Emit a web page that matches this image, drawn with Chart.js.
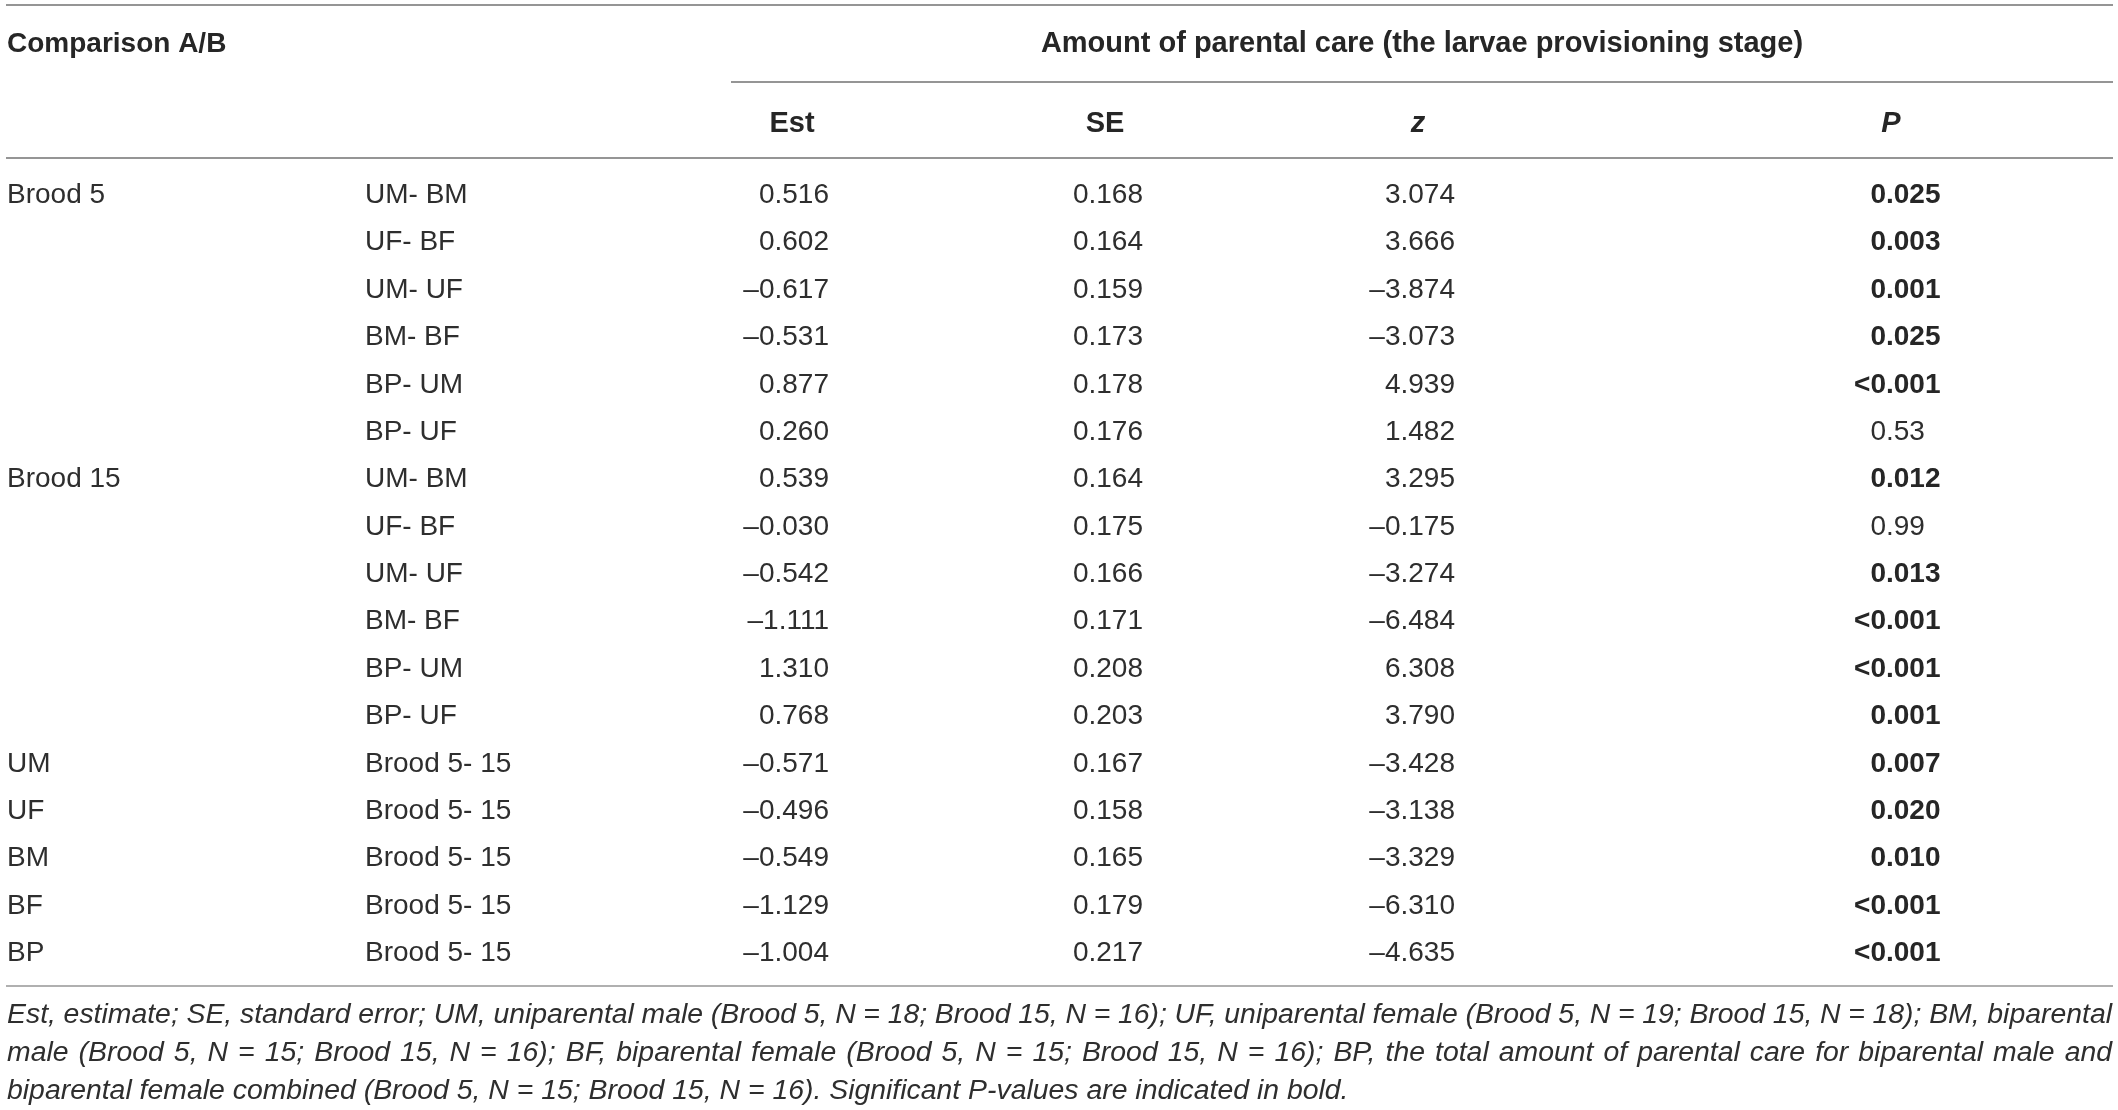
<!DOCTYPE html>
<html>
<head>
<meta charset="utf-8">
<script src="https://cdn.jsdelivr.net/npm/chart.js@4.4.1/dist/chart.umd.min.js"></script>
<style>
html, body { margin: 0; padding: 0; background: #fff; }
#wrap { width: 2118px; height: 1110px; position: relative; }
</style>
</head>
<body>
<div id="wrap"><canvas id="table"></canvas></div>
<script>
// table data
const groups = ["Brood 5", "", "", "", "", "", "Brood 15", "", "", "", "", "", "UM", "UF", "BM", "BF", "BP"];
const comparisons = ["UM- BM", "UF- BF", "UM- UF", "BM- BF", "BP- UM", "BP- UF",
                     "UM- BM", "UF- BF", "UM- UF", "BM- BF", "BP- UM", "BP- UF",
                     "Brood 5- 15", "Brood 5- 15", "Brood 5- 15", "Brood 5- 15", "Brood 5- 15"];
const est = [0.516, 0.602, -0.617, -0.531, 0.877, 0.260, 0.539, -0.030, -0.542, -1.111, 1.310, 0.768, -0.571, -0.496, -0.549, -1.129, -1.004];
const se = [0.168, 0.164, 0.159, 0.173, 0.178, 0.176, 0.164, 0.175, 0.166, 0.171, 0.208, 0.203, 0.167, 0.158, 0.165, 0.179, 0.217];
const zVals = [3.074, 3.666, -3.874, -3.073, 4.939, 1.482, 3.295, -0.175, -3.274, -6.484, 6.308, 3.790, -3.428, -3.138, -3.329, -6.310, -4.635];
const pVals = ["0.025", "0.003", "0.001", "0.025", "<0.001", "0.53", "0.012", "0.99", "0.013", "<0.001", "<0.001", "0.001", "0.007", "0.020", "0.010", "<0.001", "<0.001"];

const headTitle = "Comparison A/B";
const headSpan = "Amount of parental care (the larvae provisioning stage)";
const subHeads = ["Est", "SE", "z", "P"];
const notes = [
  "Est, estimate; SE, standard error; UM, uniparental male (Brood 5, N = 18; Brood 15, N = 16); UF, uniparental female (Brood 5, N = 19; Brood 15, N = 18); BM, biparental",
  "male (Brood 5, N = 15; Brood 15, N = 16); BF, biparental female (Brood 5, N = 15; Brood 15, N = 16); BP, the total amount of parental care for biparental male and",
  "biparental female combined (Brood 5, N = 15; Brood 15, N = 16). Significant P-values are indicated in bold."
];

// layout (x in px units, y in row units)
const colX = { group: 7, comp: 365, est: 829, se: 1143, z: 1455, p: 1886 };
const subX = [792, 1105, 1418, 1891];
const TEXT = '#262626';
const BODY = '#2e2e2e';
const RULE = '#959595';
const FAM = '"Liberation Sans", Arial, sans-serif';
const LIGHT = '28px ' + FAM;
const BOLD = 'bold 29px ' + FAM;
const BOLDT = 'bold 28px ' + FAM;
const BOLDP = 'bold 28px ' + FAM;
const BOLDIT = 'italic bold 29px ' + FAM;
const ITAL = 'italic 28.4px ' + FAM;
const DY = 0.05;

const rules = [
  { y: -3.968, x0: 6, x1: 2113, c: RULE },
  { y: -2.343, x0: 731, x1: 2113, c: RULE },
  { y: -0.739, x0: 6, x1: 2113, c: RULE },
  { y: 16.739, x0: 6, x1: 2113, c: '#b0b0b0' }
];

function fmt(v) {
  return v.toFixed(3).replace('-', '\u2013');
}
function isSig(p) {
  return parseFloat(p.replace('<', '')) < 0.05;
}

function column(texts, x, opts) {
  return Object.assign({
    data: texts.map((t, i) => ({ x: x, y: i })),
    texts: texts,
    pointRadius: 0,
    showLine: false
  }, opts);
}

const datasets = [
  column(groups, colX.group, { align: 'left' }),
  column(comparisons, colX.comp, { align: 'left' }),
  column(est.map(fmt), colX.est, { align: 'right' }),
  column(se.map(fmt), colX.se, { align: 'right' }),
  column(zVals.map(fmt), colX.z, { align: 'right' }),
  column(pVals, colX.p, { align: 'decimal', bold: pVals.map(isSig) })
];

function justify(ctx, line, x0, x1, y) {
  const words = line.split(' ');
  let total = 0;
  words.forEach(w => total += ctx.measureText(w).width);
  const gap = (x1 - x0 - total) / (words.length - 1);
  let x = x0;
  words.forEach(w => {
    ctx.fillText(w, x, y);
    x += ctx.measureText(w).width + gap;
  });
}

const tablePlugin = {
  id: 'tableText',
  afterDatasetsDraw(chart) {
    const ctx = chart.ctx;
    const xs = chart.scales.x, ys = chart.scales.y;
    ctx.save();
    ctx.lineWidth = 2;
    rules.forEach(r => {
      const y = Math.round(ys.getPixelForValue(r.y));
      ctx.strokeStyle = r.c;
      ctx.beginPath();
      ctx.moveTo(xs.getPixelForValue(r.x0), y);
      ctx.lineTo(xs.getPixelForValue(r.x1), y);
      ctx.stroke();
    });

    ctx.fillStyle = TEXT;
    ctx.textBaseline = 'middle';

    // headers
    ctx.font = BOLDT;
    ctx.textAlign = 'left';
    ctx.fillText(headTitle, xs.getPixelForValue(colX.group), ys.getPixelForValue(-3.187 + DY));
    ctx.font = BOLD;
    ctx.textAlign = 'center';
    ctx.fillText(headSpan, xs.getPixelForValue(1422), ys.getPixelForValue(-3.187 + DY));
    subHeads.forEach((h, i) => {
      ctx.font = (h === 'z' || h === 'P') ? BOLDIT : BOLD;
      ctx.fillText(h, xs.getPixelForValue(subX[i]), ys.getPixelForValue(-1.499 + DY));
    });

    // body cells
    chart.data.datasets.forEach((ds, d) => {
      const meta = chart.getDatasetMeta(d);
      meta.data.forEach((pt, i) => {
        const t = ds.texts[i];
        if (!t) return;
        const y = pt.y + DY * 47.4;
        const bold = ds.bold && ds.bold[i];
        ctx.font = bold ? BOLDP : LIGHT;
        ctx.fillStyle = bold ? TEXT : BODY;
        if (ds.align === 'decimal') {
          const k = t.indexOf('.');
          ctx.textAlign = 'right';
          ctx.fillText(t.slice(0, k), pt.x, y);
          ctx.textAlign = 'left';
          ctx.fillText(t.slice(k), pt.x, y);
        } else {
          ctx.textAlign = ds.align;
          ctx.fillText(t, pt.x, y);
        }
      });
    });

    // footnote
    ctx.font = ITAL;
    ctx.fillStyle = BODY;
    ctx.textAlign = 'left';
    const noteY = [17.31, 18.11, 18.91];
    notes.forEach((line, i) => {
      const y = ys.getPixelForValue(noteY[i] + DY);
      if (i < notes.length - 1) justify(ctx, line, xs.getPixelForValue(7), xs.getPixelForValue(2112), y);
      else ctx.fillText(line, xs.getPixelForValue(7), y);
    });
    ctx.restore();
  }
};

new Chart(document.getElementById('table'), {
  type: 'scatter',
  data: { datasets: datasets },
  options: {
    responsive: true,
    maintainAspectRatio: false,
    animation: false,
    layout: { padding: 0 },
    plugins: { legend: { display: false }, tooltip: { enabled: false } },
    scales: {
      x: { type: 'linear', display: false, min: 0, max: 2118 },
      y: { type: 'linear', display: false, reverse: true, min: -4.074, max: 19.356 }
    }
  },
  plugins: [tablePlugin]
});
</script>
</body>
</html>
